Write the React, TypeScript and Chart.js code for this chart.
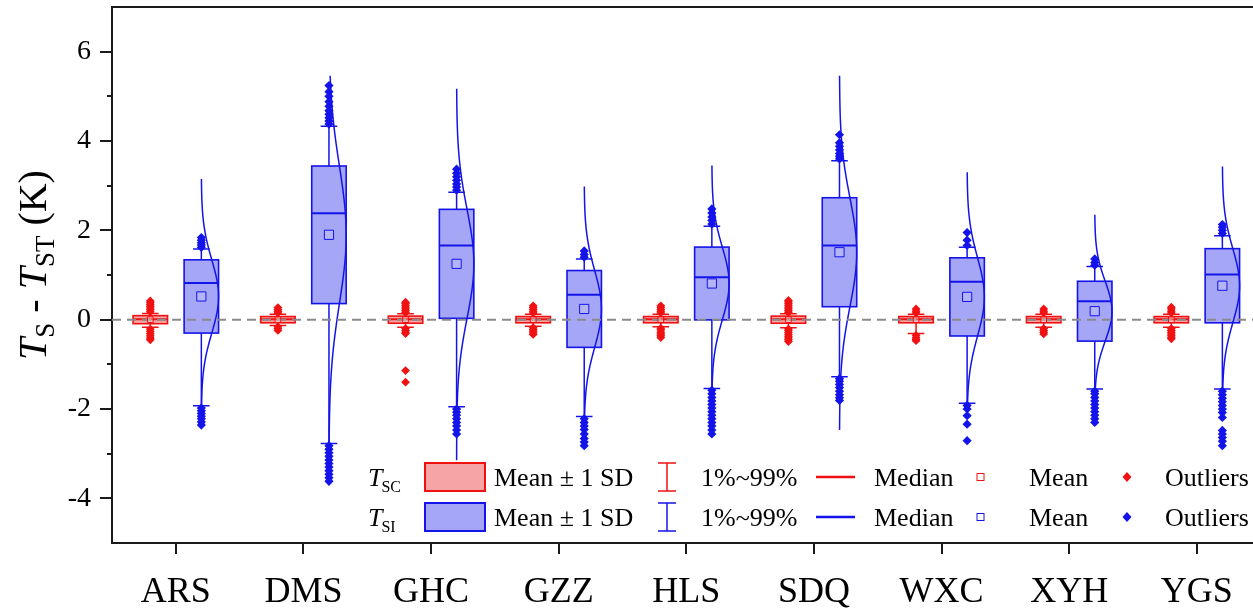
import React, { useEffect, useRef } from 'react';
import { Chart, registerables } from 'chart.js';

Chart.register(...registerables);

// ---------------- data ----------------
const SITES = ['ARS', 'DMS', 'GHC', 'GZZ', 'HLS', 'SDQ', 'WXC', 'XYH', 'YGS'];
const Y_LABELS = [-4, -2, 0, 2, 4, 6];

// T_SI (blue)
const SI_MEAN = [0.52, 1.9, 1.25, 0.24, 0.81, 1.51, 0.51, 0.19, 0.76];
const SI_SD = [0.82, 1.54, 1.22, 0.86, 0.815, 1.22, 0.875, 0.67, 0.83];
const SI_MEDIAN = [0.82, 2.38, 1.66, 0.56, 0.95, 1.66, 0.85, 0.41, 1.01];
const SI_P1 = [-1.93, -2.77, -1.95, -2.17, -1.54, -1.28, -1.87, -1.55, -1.55];
const SI_P99 = [1.58, 4.33, 2.85, 1.36, 2.09, 3.56, 1.62, 1.19, 1.88];
const SI_CURVE_LOW = [-2.3, -3.5, -3.15, -2.6, -2.5, -2.47, -1.95, -1.7, -2.2];
const SI_CURVE_HIGH = [3.15, 5.46, 5.17, 2.98, 3.45, 5.46, 3.3, 2.35, 3.43];
const SI_OUTLIERS = [
  [1.62, 1.67, 1.72, 1.78, 1.84, -1.98, -2.04, -2.1, -2.16, -2.22, -2.29, -2.36],
  [4.38, 4.45, 4.52, 4.6, 4.68, 4.78, 4.88, 5.0, 5.1, 5.24, -2.82, -2.9, -2.98, -3.06, -3.14, -3.22, -3.3, -3.38, -3.46, -3.54, -3.62],
  [2.9, 2.97, 3.04, 3.12, 3.2, 3.28, 3.37, -2.0, -2.07, -2.14, -2.22, -2.3, -2.38, -2.47, -2.56],
  [1.4, 1.46, 1.54, -2.22, -2.3, -2.38, -2.46, -2.56, -2.66, -2.74, -2.82],
  [2.14, 2.22, 2.3, 2.39, 2.48, -1.58, -1.66, -1.74, -1.82, -1.9, -1.98, -2.06, -2.14, -2.22, -2.3, -2.38, -2.47, -2.56],
  [3.6, 3.66, 3.72, 3.8, 3.88, 3.96, 4.14, -1.32, -1.38, -1.45, -1.52, -1.6, -1.68, -1.75, -1.81],
  [1.66, 1.78, 1.95, -1.92, -2.0, -2.15, -2.34, -2.71],
  [1.22, 1.28, 1.36, -1.6, -1.66, -1.74, -1.82, -1.9, -1.98, -2.06, -2.14, -2.22, -2.3],
  [1.93, 2.0, 2.07, 2.13, -1.6, -1.68, -1.76, -1.84, -1.92, -2.0, -2.08, -2.19, -2.48, -2.56, -2.64, -2.72, -2.82],
];

// T_SC (red)
const SC_MEAN = [0.0, 0.0, 0.0, 0.0, 0.0, 0.0, 0.0, 0.0, 0.0];
const SC_SD = [0.09, 0.07, 0.08, 0.07, 0.07, 0.08, 0.07, 0.07, 0.07];
const SC_MEDIAN = [0.01, 0.01, 0.01, 0.01, 0.01, 0.01, 0.01, 0.01, 0.01];
const SC_P1 = [-0.17, -0.13, -0.17, -0.15, -0.16, -0.18, -0.31, -0.17, -0.17];
const SC_P99 = [0.14, 0.12, 0.13, 0.12, 0.12, 0.13, 0.12, 0.12, 0.12];
const SC_OUTLIERS = [
  [0.18, 0.22, 0.26, 0.3, 0.34, 0.38, 0.42, -0.21, -0.26, -0.31, -0.36, -0.41, -0.45],
  [0.15, 0.19, 0.23, 0.27, -0.16, -0.2, -0.24],
  [0.16, 0.2, 0.24, 0.28, 0.32, 0.36, 0.39, -0.2, -0.24, -0.28, -0.31, -1.14, -1.4],
  [0.15, 0.19, 0.23, 0.27, 0.31, -0.18, -0.22, -0.26, -0.3, -0.33],
  [0.15, 0.19, 0.23, 0.27, 0.31, -0.19, -0.23, -0.28, -0.32, -0.36, -0.4],
  [0.16, 0.2, 0.24, 0.28, 0.32, 0.36, 0.4, 0.43, -0.21, -0.25, -0.29, -0.33, -0.37, -0.41, -0.45, -0.49],
  [0.15, 0.19, 0.24, -0.35, -0.4, -0.44, -0.47],
  [0.15, 0.19, 0.24, -0.2, -0.24, -0.28, -0.32],
  [0.15, 0.19, 0.24, 0.28, -0.2, -0.24, -0.28, -0.32, -0.36, -0.4, -0.43],
];

// ---------------- style ----------------
const W = 1253;
const H = 609;
const SC_OFF = -0.2;
const SI_OFF = 0.2;
const BOX_W = 0.27;
const CAP_W = 0.13;
const BLUE = '#1414ea';
const BLUE_FILL = '#a6a6f6';
const RED = '#f01212';
const RED_FILL = '#f6a4a4';
const AXIS = '#1a1a1a';
const SERIF = '"Liberation Serif", "Times New Roman", serif';

function drawBox(ctx, x, y, c, mean, sd, med, p1, p99, stroke, fill) {
  const xc = x.getPixelForValue(c);
  const half = x.getPixelForValue(c + BOX_W / 2) - xc;
  const capHalf = x.getPixelForValue(c + CAP_W / 2) - xc;
  const top = y.getPixelForValue(mean + sd);
  const bot = y.getPixelForValue(mean - sd);
  ctx.strokeStyle = stroke;
  ctx.lineWidth = 1.5;
  ctx.beginPath();
  ctx.moveTo(xc, top);
  ctx.lineTo(xc, y.getPixelForValue(p99));
  ctx.moveTo(xc, bot);
  ctx.lineTo(xc, y.getPixelForValue(p1));
  ctx.moveTo(xc - capHalf, y.getPixelForValue(p99));
  ctx.lineTo(xc + capHalf, y.getPixelForValue(p99));
  ctx.moveTo(xc - capHalf, y.getPixelForValue(p1));
  ctx.lineTo(xc + capHalf, y.getPixelForValue(p1));
  ctx.stroke();
  ctx.fillStyle = fill;
  ctx.fillRect(xc - half, top, 2 * half, bot - top);
  ctx.lineWidth = 1.6;
  ctx.strokeRect(xc - half, top, 2 * half, bot - top);
  ctx.lineWidth = 2;
  ctx.beginPath();
  ctx.moveTo(xc - half, y.getPixelForValue(med));
  ctx.lineTo(xc + half, y.getPixelForValue(med));
  ctx.stroke();
  return { xc, half };
}

const boxPlugin = {
  id: 'boxPlot',
  beforeDatasetsDraw(chart) {
    const { ctx, chartArea } = chart;
    const x = chart.scales.x;
    const y = chart.scales.y;
    ctx.save();
    SITES.forEach((_, i) => {
      drawBox(ctx, x, y, i + SC_OFF, SC_MEAN[i], SC_SD[i], SC_MEDIAN[i], SC_P1[i], SC_P99[i], RED, RED_FILL);
      const b = drawBox(ctx, x, y, i + SI_OFF, SI_MEAN[i], SI_SD[i], SI_MEDIAN[i], SI_P1[i], SI_P99[i], BLUE, BLUE_FILL);
      // fitted normal distribution curve (from mean and SD)
      const lo = SI_CURVE_LOW[i];
      const hi = SI_CURVE_HIGH[i];
      ctx.strokeStyle = BLUE;
      ctx.lineWidth = 1.5;
      ctx.beginPath();
      const n = 160;
      for (let k = 0; k <= n; k++) {
        const v = lo + ((hi - lo) * k) / n;
        const z = (v - SI_MEAN[i]) / SI_SD[i];
        const xx = b.xc + b.half * Math.exp(-0.5 * z * z);
        const yy = y.getPixelForValue(v);
        if (k === 0) ctx.moveTo(xx, yy);
        else ctx.lineTo(xx, yy);
      }
      ctx.stroke();
    });
    // zero reference line
    const y0 = y.getPixelForValue(0);
    ctx.strokeStyle = '#8a8a8a';
    ctx.lineWidth = 2;
    ctx.setLineDash([9, 6]);
    ctx.beginPath();
    ctx.moveTo(chartArea.left, y0);
    ctx.lineTo(chartArea.right, y0);
    ctx.stroke();
    ctx.restore();
  },
  afterDraw(chart) {
    const { ctx, chartArea } = chart;
    const x = chart.scales.x;
    const y = chart.scales.y;
    ctx.save();
    // frame top
    ctx.strokeStyle = AXIS;
    ctx.lineWidth = 2;
    ctx.beginPath();
    ctx.moveTo(chartArea.left, chartArea.top);
    ctx.lineTo(chartArea.right, chartArea.top);
    ctx.stroke();
    // y ticks
    ctx.beginPath();
    for (let v = -4; v <= 6; v++) {
      const yy = Math.round(y.getPixelForValue(v));
      const len = v % 2 === 0 ? 12 : 5;
      ctx.moveTo(chartArea.left - len, yy);
      ctx.lineTo(chartArea.left, yy);
    }
    // x ticks
    SITES.forEach((_, i) => {
      const xx = Math.round(x.getPixelForValue(i));
      ctx.moveTo(xx, chartArea.bottom);
      ctx.lineTo(xx, chartArea.bottom + 11);
    });
    ctx.stroke();

    // y axis title: T_S - T_ST (K)
    const segs = [
      { t: 'T', f: `italic 40px ${SERIF}`, dy: 0 },
      { t: 'S', f: `27px ${SERIF}`, dy: 8 },
      { t: ' - ', f: `40px ${SERIF}`, dy: 0 },
      { t: 'T', f: `italic 40px ${SERIF}`, dy: 0 },
      { t: 'ST', f: `27px ${SERIF}`, dy: 8 },
      { t: ' (K)', f: `40px ${SERIF}`, dy: 0 },
    ];
    let total = 0;
    segs.forEach((s) => {
      ctx.font = s.f;
      total += ctx.measureText(s.t).width;
    });
    ctx.translate(46, 265);
    ctx.rotate(-Math.PI / 2);
    ctx.fillStyle = '#000';
    ctx.textBaseline = 'alphabetic';
    ctx.textAlign = 'left';
    let cx = -total / 2;
    segs.forEach((s) => {
      ctx.font = s.f;
      ctx.fillText(s.t, cx, s.dy);
      cx += ctx.measureText(s.t).width;
    });
    ctx.setTransform(1, 0, 0, 1, 0, 0);

    // legend
    const rows = [
      { y: 477, c: RED, f: RED_FILL, sub: 'SC' },
      { y: 517, c: BLUE, f: BLUE_FILL, sub: 'SI' },
    ];
    rows.forEach((r) => {
      const base = r.y + 9;
      ctx.fillStyle = '#000';
      ctx.font = `italic 26px ${SERIF}`;
      ctx.fillText('T', 368, base);
      const tw = ctx.measureText('T').width;
      ctx.font = `16px ${SERIF}`;
      ctx.fillText(r.sub, 368 + tw - 1, base + 6);
      // swatch
      ctx.fillStyle = r.f;
      ctx.fillRect(425, r.y - 14, 60, 28);
      ctx.strokeStyle = r.c;
      ctx.lineWidth = 2;
      ctx.strokeRect(425, r.y - 14, 60, 28);
      ctx.fillStyle = '#000';
      ctx.font = `26px ${SERIF}`;
      ctx.fillText('Mean \u00b1 1 SD', 494, base);
      // whisker icon
      ctx.strokeStyle = r.c;
      ctx.lineWidth = 1.5;
      ctx.beginPath();
      ctx.moveTo(667, r.y - 14);
      ctx.lineTo(667, r.y + 14);
      ctx.moveTo(658, r.y - 14);
      ctx.lineTo(676, r.y - 14);
      ctx.moveTo(658, r.y + 14);
      ctx.lineTo(676, r.y + 14);
      ctx.stroke();
      ctx.fillText('1%~99%', 701, base);
      // median line
      ctx.lineWidth = 2.5;
      ctx.beginPath();
      ctx.moveTo(816, r.y);
      ctx.lineTo(855, r.y);
      ctx.stroke();
      ctx.fillText('Median', 874, base);
      // mean square
      ctx.lineWidth = 1;
      ctx.strokeRect(977, r.y - 3.5, 7, 7);
      ctx.fillText('Mean', 1029, base);
      // diamond
      ctx.fillStyle = r.c;
      ctx.beginPath();
      ctx.moveTo(1127, r.y - 5);
      ctx.lineTo(1131.5, r.y);
      ctx.lineTo(1127, r.y + 5);
      ctx.lineTo(1122.5, r.y);
      ctx.closePath();
      ctx.fill();
      ctx.fillStyle = '#000';
      ctx.fillText('Outliers', 1165, base);
    });
    ctx.restore();
  },
};

function pointsFor(outliers, off) {
  const pts = [];
  outliers.forEach((list, i) => list.forEach((v) => pts.push({ x: i + off, y: v })));
  return pts;
}

function zeroPad(s) {
  s.paddingTop = 0;
  s.paddingBottom = 0;
  s.paddingLeft = 0;
  s.paddingRight = 0;
}

export default function App() {
  const ref = useRef(null);
  useEffect(() => {
    const canvas = ref.current;
    const chart = new Chart(canvas, {
      type: 'scatter',
      data: {
        datasets: [
          {
            label: 'T_SI mean',
            data: SI_MEAN.map((v, i) => ({ x: i + SI_OFF, y: v })),
            pointStyle: 'rect',
            radius: 6.5,
            backgroundColor: 'rgba(190,190,250,0.6)',
            borderColor: BLUE,
            borderWidth: 1,
            order: 0,
          },
          {
            label: 'T_SC mean',
            data: SC_MEAN.map((v, i) => ({ x: i + SC_OFF, y: v })),
            pointStyle: 'rect',
            radius: 4,
            backgroundColor: 'rgba(255,255,255,0.3)',
            borderColor: RED,
            borderWidth: 1,
            order: 1,
          },
          {
            label: 'T_SI outliers',
            data: pointsFor(SI_OUTLIERS, SI_OFF),
            pointStyle: 'rectRot',
            radius: 4.6,
            backgroundColor: BLUE,
            borderColor: BLUE,
            borderWidth: 0,
            order: 2,
          },
          {
            label: 'T_SC outliers',
            data: pointsFor(SC_OUTLIERS, SC_OFF),
            pointStyle: 'rectRot',
            radius: 4.4,
            backgroundColor: RED,
            borderColor: RED,
            borderWidth: 0,
            order: 3,
          },
        ],
      },
      options: {
        responsive: false,
        animation: false,
        devicePixelRatio: 1,
        layout: { autoPadding: false, padding: { top: 7, left: 0, right: 0, bottom: 0 } },
        plugins: { legend: { display: false }, tooltip: { enabled: false }, title: { display: false } },
        scales: {
          x: {
            type: 'linear',
            min: -0.5,
            max: 8.44,
            afterBuildTicks: (s) => {
              s.ticks = SITES.map((_, i) => ({ value: i }));
            },
            afterFit: (s) => {
              s.height = 66;
              zeroPad(s);
            },
            ticks: {
              autoSkip: false,
              maxRotation: 0,
              padding: 28,
              color: '#000',
              font: { family: SERIF, size: 36 },
              callback: (v) => SITES[v] ?? '',
            },
            grid: { display: false, drawTicks: false },
            border: { display: true, width: 2, color: AXIS },
          },
          y: {
            type: 'linear',
            min: -5,
            max: 7,
            afterBuildTicks: (s) => {
              s.ticks = Y_LABELS.map((v) => ({ value: v }));
            },
            afterFit: (s) => {
              s.width = 112;
              zeroPad(s);
            },
            ticks: {
              padding: 21,
              color: '#000',
              font: { family: SERIF, size: 28 },
              callback: (v) => String(v),
            },
            grid: { display: false, drawTicks: false },
            border: { display: true, width: 2, color: AXIS },
          },
        },
      },
      plugins: [boxPlugin],
    });
    return () => chart.destroy();
  }, []);
  return (
    <div style={{ position: 'absolute', left: 0, top: 0, width: W, height: H, background: '#fff' }}>
      <canvas ref={ref} width={W} height={H} style={{ display: 'block', width: W, height: H }} />
    </div>
  );
}
